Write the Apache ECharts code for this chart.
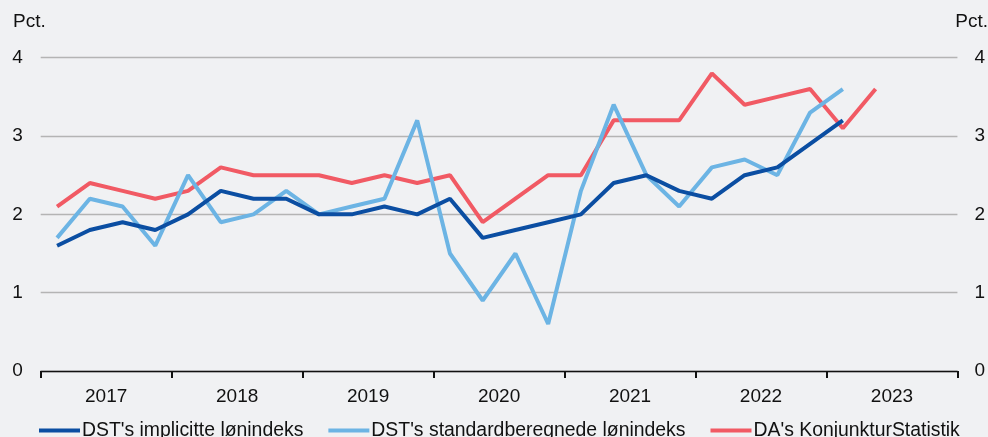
<!DOCTYPE html>
<html>
<head>
<meta charset="utf-8">
<script src="https://cdn.jsdelivr.net/npm/echarts@6/dist/echarts.min.js"></script>
<style>
html,body{margin:0;padding:0;background:#F0F1F3;}
#c{width:988px;height:437px;}
</style>
</head>
<body>
<div id="c"></div>
<script>
const quarters = [
  '2017K1','2017K2','2017K3','2017K4',
  '2018K1','2018K2','2018K3','2018K4',
  '2019K1','2019K2','2019K3','2019K4',
  '2020K1','2020K2','2020K3','2020K4',
  '2021K1','2021K2','2021K3','2021K4',
  '2022K1','2022K2','2022K3','2022K4',
  '2023K1','2023K2','2023K3','2023K4'
];
const years = ['2017','2018','2019','2020','2021','2022','2023'];
const yTicks = [0, 1, 2, 3, 4];

const implicit = [1.6,1.8,1.9,1.8, 2.0,2.3,2.2,2.2, 2.0,2.0,2.1,2.0, 2.2,1.7,1.8,1.9, 2.0,2.4,2.5,2.3, 2.2,2.5,2.6,2.9, 3.2,null,null,null];
const standard = [1.7,2.2,2.1,1.6, 2.5,1.9,2.0,2.3, 2.0,2.1,2.2,3.2, 1.5,0.9,1.5,0.6, 2.3,3.4,2.5,2.1, 2.6,2.7,2.5,3.3, 3.6,null,null,null];
const daKonj = [2.1,2.4,2.3,2.2, 2.3,2.6,2.5,2.5, 2.5,2.4,2.5,2.4, 2.5,1.9,2.2,2.5, 2.5,3.2,3.2,3.2, 3.8,3.4,3.5,3.6, 3.1,3.6,null,null];

const seriesNames = ["DST's implicitte lønindeks", "DST's standardberegnede lønindeks", "DA's KonjunkturStatistik"];
const colors = ['#0B4EA2', '#6CB4E4', '#F15A64'];

const chart = echarts.init(document.getElementById('c'));
const font = 'Liberation Sans, Arial, sans-serif';
const yAxisCommon = {
  type: 'value', min: yTicks[0], max: yTicks[yTicks.length-1], interval: 1,
  axisLine: {show: false}, axisTick: {show: false},
  splitLine: {show: true, lineStyle: {color: '#B4B4B4', width: 1.3}},
  axisLabel: {color: '#111', fontSize: 19, fontFamily: font, margin: 18}
};
chart.setOption({
  backgroundColor: '#F0F1F3',
  animation: false,
  grid: {left: 40.7, right: 26, top: 57.7, bottom: 66},
  graphic: [
    {type: 'text', left: 13, top: 12, style: {text: 'Pct.', fontSize: 19, fontFamily: font, fill: '#111'}},
    {type: 'text', right: 0, top: 12, style: {text: 'Pct.', fontSize: 19, fontFamily: font, fill: '#111'}}
  ],
  legend: {
    top: 416, left: 34, itemWidth: 41, itemHeight: 4, itemGap: 25,
    icon: 'rect',
    textStyle: {fontSize: 19.4, fontFamily: font, color: '#111', padding: [0,0,0,-3]},
    data: seriesNames
  },
  xAxis: [
    {type: 'category', data: quarters, boundaryGap: true, show: false, gridIndex: 0},
    {type: 'category', data: years, boundaryGap: true, position: 'bottom', gridIndex: 0,
     axisLine: {show: true, lineStyle: {color: '#111', width: 1.3}},
     axisTick: {show: true, inside: false, length: 7, lineStyle: {color: '#111', width: 2}},
     axisLabel: {color: '#111', fontSize: 19, fontFamily: font, margin: 16}
    }
  ],
  yAxis: [
    Object.assign({position: 'left'}, yAxisCommon),
    Object.assign({position: 'right'}, yAxisCommon, {splitLine: {show: false}, axisLabel: Object.assign({}, yAxisCommon.axisLabel, {margin: 17})})
  ],
  series: [implicit, standard, daKonj].map((d, i) => ({
    name: seriesNames[i], type: 'line', data: d, xAxisIndex: 0, yAxisIndex: 0,
    symbol: 'none', lineStyle: {width: 4, color: colors[i]}, itemStyle: {color: colors[i]},
    connectNulls: false, z: 3 - i
  }))
});
</script>
</body>
</html>
